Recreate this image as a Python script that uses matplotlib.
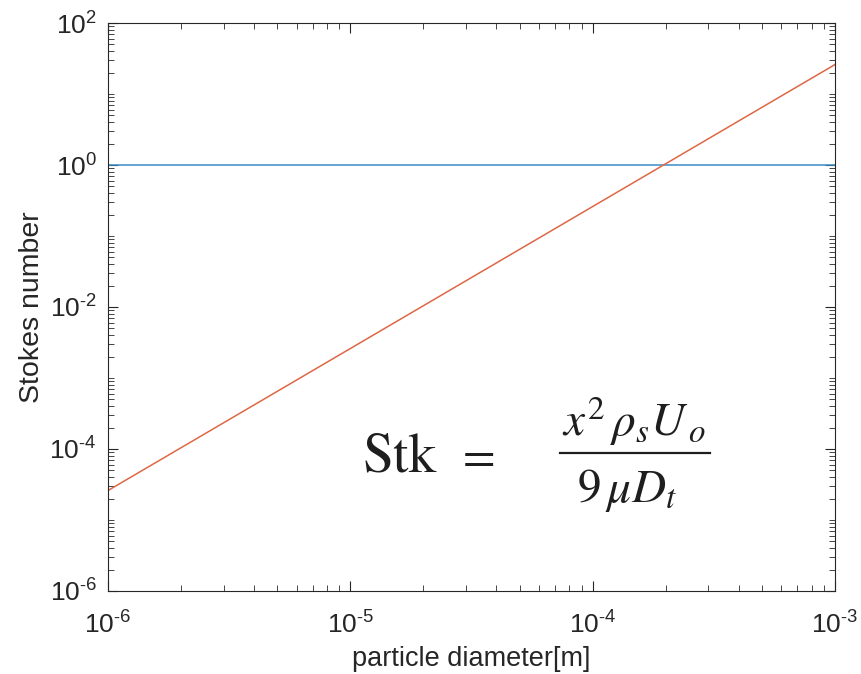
import matplotlib
matplotlib.use("Agg")
import matplotlib.pyplot as plt
from matplotlib.ticker import LogLocator, NullFormatter, FuncFormatter
from matplotlib.lines import Line2D
import numpy as np

# Data
diameter = [1e-6, 1e-3]          # particle diameter [m]
stokes = [2.6e-5, 26.0]          # Stokes number (Stk ~ x^2)
threshold = [1.0, 1.0]           # Stk = 1 reference line

xticks = [1e-6, 1e-5, 1e-4, 1e-3]
yticks = [1e-6, 1e-4, 1e-2, 1e0, 1e2]

plt.rcParams['font.family'] = ['Liberation Sans', 'DejaVu Sans']
plt.rcParams['mathtext.fontset'] = 'stix'

W, H = 861, 674
fig = plt.figure(figsize=(W / 100, H / 100), dpi=100)
ax = fig.add_axes([108 / W, 1 - 591 / H, (835 - 108) / W, (591 - 23) / H])

ax.loglog(diameter, threshold, color='#3A8CC6', linewidth=1.1)
ax.loglog(diameter, stokes, color='#DE6744', linewidth=1.1)

ax.set_xlim(1e-6, 1e-3)
ax.set_ylim(1e-6, 1e2)
ax.set_xticks(xticks)
ax.set_yticks(yticks)
ax.xaxis.set_minor_locator(LogLocator(base=10, subs=np.arange(2, 10), numticks=20))
ax.yaxis.set_minor_locator(LogLocator(base=10, subs=np.arange(1, 10), numticks=20))
ax.xaxis.set_minor_formatter(NullFormatter())
ax.yaxis.set_minor_formatter(NullFormatter())


def pow10(v, pos):
    e = int(round(np.log10(v)))
    if e < 0:
        return r'$\mathregular{10^{\text{-}%d}}$' % (-e)
    return r'$\mathregular{10^{%d}}$' % e


ax.xaxis.set_major_formatter(FuncFormatter(pow10))
ax.yaxis.set_major_formatter(FuncFormatter(pow10))

ax.tick_params(which='both', direction='in', top=True, right=True, colors='#262626')
ax.tick_params(which='major', length=7, width=0.8, labelsize=19)
ax.tick_params(which='minor', length=4, width=0.6)
ax.tick_params(axis='x', which='major', pad=15)
ax.tick_params(axis='y', which='major', pad=8)
for side in ax.spines.values():
    side.set_color('#262626')
    side.set_linewidth(0.8)

ax.set_xlabel('particle diameter[m]', fontsize=19.5, color='#262626', labelpad=5)
ax.set_ylabel('Stokes number', fontsize=20.5, color='#262626', labelpad=3)

# Formula annotation (pasted equation in the original)
ink = '#1e1e1e'
fig.text(363 / W, 1 - 472 / H, 'Stk', family='STIXGeneral', fontsize=40,
         ha='left', va='baseline', color=ink)
fig.text(479 / W, 1 - 472 / H, '=', family='STIXGeneral', fontsize=34,
         ha='center', va='baseline', color=ink)
fig.text(634 / W, 1 - 436 / H, r'$x^2\,\rho_s U_{\,o}$', fontsize=34,
         ha='center', va='baseline', color=ink)
fig.text(627 / W, 1 - 502 / H, r'$9\,\mu D_t$', fontsize=34,
         ha='center', va='baseline', color=ink)
fig.add_artist(Line2D([560 / W, 710 / W], [1 - 453 / H, 1 - 453 / H],
                      color=ink, linewidth=1.6, transform=fig.transFigure))

fig.savefig('out.png', dpi=100)
